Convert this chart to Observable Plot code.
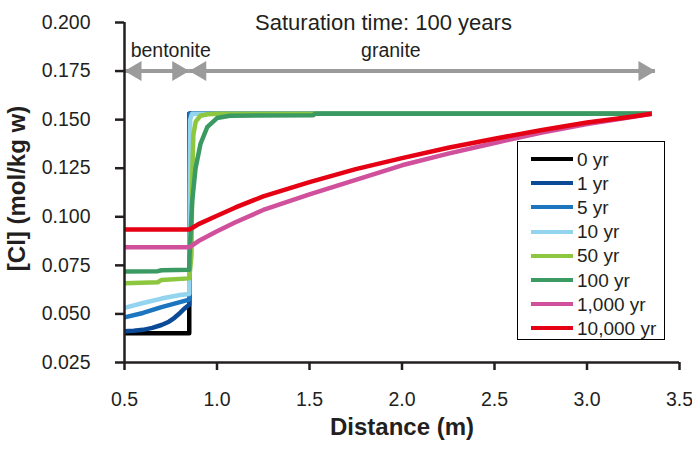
<!DOCTYPE html>
<html>
<head>
<meta charset="utf-8">
<script src="https://cdn.jsdelivr.net/npm/d3@7"></script>
<script src="https://cdn.jsdelivr.net/npm/@observablehq/plot@0.6"></script>
<style>
  html, body { margin: 0; padding: 0; background: #fff; }
  #chart { position: relative; width: 692px; height: 450px; font-family: "Liberation Sans", Arial, sans-serif; color: #231f20; }
  #chart svg { font-family: "Liberation Sans", Arial, sans-serif; }
  .legend { position: absolute; left: 517px; top: 141px; width: 148px; height: 199px; border: 1px solid #000; background: #fff; box-sizing: border-box; padding-top: 5px; }
  .legend .row { display: flex; align-items: center; height: 24.2px; }
  .legend .swatch { width: 42px; height: 4px; margin-left: 13px; margin-right: 4px; }
  .legend .label { font-size: 19px; line-height: 1; }
</style>
</head>
<body>
<div id="chart"></div>
<script>
// Chloride concentration profiles across the bentonite buffer and granite host rock
const distanceTicks = [0.5, 1.0, 1.5, 2.0, 2.5, 3.0, 3.5];
const clTicks = [0.025, 0.05, 0.075, 0.1, 0.125, 0.15, 0.175, 0.2];

const seriesNames = ["0 yr", "1 yr", "5 yr", "10 yr", "50 yr", "100 yr", "1,000 yr", "10,000 yr"];
const seriesColors = ["#000000", "#0b4a97", "#1b76bf", "#93d4ef", "#8dc63f", "#3b9a62", "#d0509c", "#e60014"];

// [distance (m), Cl (mol/kg w)]
const yr0 = [[0.5, 0.040], [0.85, 0.040], [0.85, 0.153], [3.35, 0.153]];
const yr1 = [[0.5, 0.0411], [0.55, 0.0413], [0.6, 0.0418], [0.65, 0.0428], [0.7, 0.0443], [0.74, 0.0460], [0.77, 0.0480], [0.8, 0.0505], [0.825, 0.0528], [0.85, 0.0548], [0.851, 0.153], [3.35, 0.153]];
const yr5 = [[0.5, 0.0482], [0.6, 0.0505], [0.7, 0.0535], [0.8, 0.0561], [0.85, 0.0574], [0.852, 0.153], [3.35, 0.153]];
const yr10 = [[0.5, 0.0531], [0.6, 0.0556], [0.7, 0.0579], [0.8, 0.0597], [0.85, 0.0603], [0.855, 0.150], [0.865, 0.153], [3.35, 0.153]];
const yr50 = [[0.5, 0.0658], [0.68, 0.0663], [0.7, 0.0675], [0.85, 0.0683], [0.862, 0.080], [0.866, 0.120], [0.872, 0.142], [0.885, 0.1490], [0.91, 0.1520], [0.95, 0.1528], [1.0, 0.1530], [3.35, 0.153]];
const yr100 = [[0.5, 0.0718], [0.68, 0.0720], [0.7, 0.0725], [0.85, 0.0727], [0.851, 0.079], [0.866, 0.108], [0.884, 0.125], [0.911, 0.1376], [0.947, 0.1461], [1.0, 0.1508], [1.07, 0.1520], [1.52, 0.1523], [1.53, 0.153], [3.35, 0.153]];
const yr1000 = [[0.5, 0.0843], [0.85, 0.0843], [0.87, 0.0855], [0.9, 0.0875], [1.0, 0.0925], [1.1, 0.0972], [1.25, 0.1035], [1.5, 0.1115], [1.75, 0.1190], [2.0, 0.1265], [2.25, 0.1325], [2.5, 0.1380], [2.75, 0.1432], [3.0, 0.1478], [3.2, 0.1507], [3.35, 0.1530]];
const yr10000 = [[0.5, 0.0935], [0.85, 0.0935], [0.87, 0.0945], [0.9, 0.0962], [1.0, 0.1005], [1.1, 0.1048], [1.25, 0.1105], [1.5, 0.1178], [1.75, 0.1245], [2.0, 0.1302], [2.25, 0.1355], [2.5, 0.1402], [2.75, 0.1445], [3.0, 0.1485], [3.2, 0.1510], [3.35, 0.1530]];

const profiles = [yr0, yr1, yr5, yr10, yr50, yr100, yr1000, yr10000];

// Material zones shown by the double arrows along the top
const zoneNames = ["bentonite", "granite"];
const zoneStart = [0.5, 0.85];
const zoneEnd = [0.85, 3.37];
const zoneLabelX = [0.75, 1.94];
const zoneArrowY = 0.175;
const zoneLabelY = 0.1822;
const titleText = "Saturation time: 100 years";
const titleX = 1.9;
const titleY = 0.1962;

const rows = profiles.flatMap((pts, i) => pts.map(([x, y]) => ({time: seriesNames[i], x, y})));
const zones = zoneNames.map((name, i) => ({name, from: zoneStart[i], to: zoneEnd[i], labelX: zoneLabelX[i]}));
const heads = zones.flatMap(z => [{x: z.from, dir: "left"}, {x: z.to, dir: "right"}]);

// Filled arrowheads with the tip at the anchor point
const headLen = 17, headHalf = 10;
const rightHead = {draw(ctx) { ctx.moveTo(0, 0); ctx.lineTo(-headLen, -headHalf); ctx.lineTo(-headLen, headHalf); ctx.closePath(); }};
const leftHead = {draw(ctx) { ctx.moveTo(0, 0); ctx.lineTo(headLen, -headHalf); ctx.lineTo(headLen, headHalf); ctx.closePath(); }};

const ink = "#231f20";
const arrowGray = "#9b9b9b";

const plot = Plot.plot({
  width: 692,
  height: 450,
  marginLeft: 124,
  marginRight: 13,
  marginTop: 22,
  marginBottom: 88,
  style: {fontFamily: "Liberation Sans, Arial, sans-serif", color: ink, background: "#fff"},
  x: {domain: [0.5, 3.5]},
  y: {domain: [0.025, 0.2]},
  color: {domain: seriesNames, range: seriesColors},
  marks: [
    // zone arrows
    Plot.ruleY(zones, {x1: "from", x2: "to", y: () => zoneArrowY, stroke: arrowGray, strokeWidth: 4}),
    Plot.dot(heads.filter(d => d.dir === "left"), {x: "x", y: () => zoneArrowY, symbol: leftHead, fill: arrowGray, stroke: "none"}),
    Plot.dot(heads.filter(d => d.dir === "right"), {x: "x", y: () => zoneArrowY, symbol: rightHead, fill: arrowGray, stroke: "none"}),
    Plot.text(zones, {x: "labelX", y: () => zoneLabelY, text: "name", fontSize: 19.5, fill: ink, lineAnchor: "bottom"}),
    Plot.text([titleText], {x: () => titleX, y: () => titleY, text: d => d, fontSize: 22, fill: ink, lineAnchor: "bottom"}),
    // concentration profiles
    Plot.line(rows, {x: "x", y: "y", z: "time", stroke: "time", strokeWidth: 4.5, strokeLinecap: "butt", strokeLinejoin: "round"}),
    // axes
    Plot.ruleX([0.5], {stroke: ink, strokeWidth: 2.5}),
    Plot.ruleY([0.025], {stroke: ink, strokeWidth: 2.5}),
    Plot.axisX(distanceTicks, {tickSize: 8, tickPadding: 22, fontSize: 19.5, strokeWidth: 2.5, stroke: ink, fill: ink, tickFormat: d3.format(".1f"), label: null}),
    Plot.axisY(clTicks, {tickSize: 9, tickPadding: 25, fontSize: 19.5, strokeWidth: 2.5, stroke: ink, fill: ink, tickFormat: d3.format(".3f"), label: null}),
    Plot.text(["Distance (m)"], {frameAnchor: "bottom", dy: 72, text: d => d, fontSize: 24, fontWeight: "bold", fill: ink}),
    Plot.text(["[Cl] (mol/kg w)"], {frameAnchor: "left", textAnchor: "middle", rotate: -90, dx: -107, dy: -4, text: d => d, fontSize: 24, fontWeight: "bold", fill: ink})
  ]
});

const chart = document.getElementById("chart");
chart.appendChild(plot);

// Legend box in the lower right of the plot area
const legend = document.createElement("div");
legend.className = "legend";
seriesNames.forEach((name, i) => {
  const row = document.createElement("div");
  row.className = "row";
  const sw = document.createElement("span");
  sw.className = "swatch";
  sw.style.background = seriesColors[i];
  const lab = document.createElement("span");
  lab.className = "label";
  lab.textContent = name;
  row.appendChild(sw);
  row.appendChild(lab);
  legend.appendChild(row);
});
chart.appendChild(legend);
</script>
</body>
</html>
